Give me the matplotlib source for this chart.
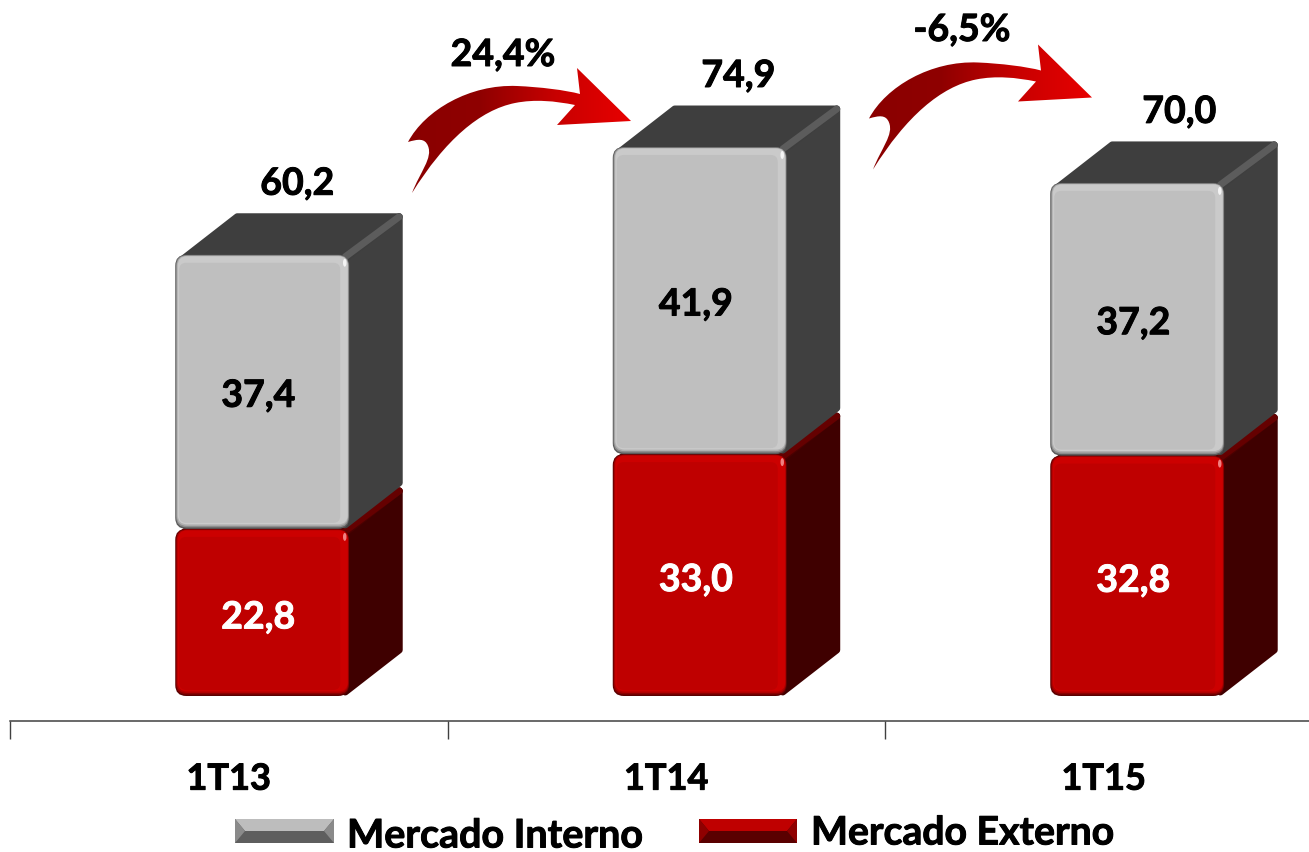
import matplotlib
matplotlib.use('Agg')
import matplotlib.pyplot as plt
import matplotlib.patheffects as pe
import numpy as np
from matplotlib.patches import FancyBboxPatch, Polygon, PathPatch, Ellipse, Rectangle
from matplotlib.path import Path
from matplotlib.transforms import Affine2D

W, H = 1309, 852

categories = ['1T13', '1T14', '1T15']
externo = [22.8, 33.0, 32.8]
interno = [37.4, 41.9, 37.2]
totais = [60.2, 74.9, 70.0]
totais_txt = ['60,2', '74,9', '70,0']
externo_txt = ['22,8', '33,0', '32,8']
interno_txt = ['37,4', '41,9', '37,2']
variacao = ['24,4%', '-6,5%']

plt.rcParams['font.family'] = ['Lato', 'DejaVu Sans']
plt.rcParams['font.weight'] = 'bold'

fig = plt.figure(figsize=(W / 100, H / 100), dpi=100, facecolor='white')

# eixo principal: linha em y=720px, categorias de 437.5px
SX = 437.5
SY = 7.33
x0_px, y0_px = 10, 721
ax = fig.add_axes([x0_px / W, (H - y0_px) / H, (W - x0_px) / W, y0_px / H])
ax.set_xlim(-0.5, -0.5 + (W - x0_px) / SX)
base = -25 / SY
ax.set_ylim(base, base + y0_px / SY)
ax.patch.set_alpha(0)
for s in ['top', 'left', 'right']:
    ax.spines[s].set_visible(False)
ax.spines['bottom'].set_color('#404040')
ax.spines['bottom'].set_linewidth(1.1)
ax.set_yticks([])
ax.set_xticks(range(len(categories)))
ax.set_xticklabels(categories, fontsize=26, fontweight='bold', color='black')
ax.tick_params(axis='x', which='major', length=0, pad=30)
ax.set_xticks([-0.5, 0.5, 1.5], minor=True)
ax.tick_params(axis='x', which='minor', length=13, width=1.0, color='#404040')

OFF = 33.5 / SX
BW = 174 / SX
DX = 54 / SX
DY = 42 / SY

grosso = [pe.withStroke(linewidth=0.7, foreground='black')]
grosso_b = [pe.withStroke(linewidth=0.7, foreground='white')]
for t in ax.get_xticklabels():
    t.set_path_effects(grosso)


def caixa(x, y0, y1, ins, cor, z):
    # ins = recuo em px (esq, dir, baixo, cima)
    l, r, b, t = ins
    xa = x + l / SX
    xb = x + BW - r / SX
    ya = y0 + b / SY
    yb = y1 - t / SY
    rad = max(11 - min(ins), 2) / SX
    p = FancyBboxPatch((xa, ya), xb - xa, yb - ya,
                       boxstyle='round,pad=0,rounding_size=%f' % rad,
                       mutation_aspect=SX / SY, fc=cor, ec='none', zorder=z)
    ax.add_patch(p)


def cubo(x, y0, y1, cores, z):
    lado, aresta, topo = cores['lado'], cores['aresta'], cores['topo']
    e = 4 / SX
    f = 4 / SY
    # face lateral
    ax.add_patch(Polygon([(x + BW - e, y0 + f), (x + BW + DX - e, y0 + DY + f),
                          (x + BW + DX - e, y1 + DY - f), (x + BW - e, y1 - f)],
                         closed=True, fc=lado, ec=lado, lw=5, joinstyle='round', zorder=z))
    # face de cima
    ax.add_patch(Polygon([(x + 2 * e, y1 - f), (x + DX + 2 * e, y1 + DY - f),
                          (x + BW + DX - e, y1 + DY - f), (x + BW - e, y1 - f)],
                         closed=True, fc=topo, ec=topo, lw=5, joinstyle='round', zorder=z))
    # aresta clara entre topo e lado
    ax.plot([x + BW - e, x + BW + DX - e], [y1 - f / 2, y1 + DY - f],
            color=aresta, lw=5, solid_capstyle='round', zorder=z + 0.1)
    # frente em camadas
    caixa(x, y0, y1, (0, 0, 0, 0), cores['borda'], z + 0.2)
    caixa(x, y0, y1, (0.8, 0.5, 1.5, 0.5), cores['meio'], z + 0.3)
    caixa(x, y0, y1, (1.6, 1, 3, 1), cores['claro'], z + 0.4)
    caixa(x, y0, y1, (2.5, 1.5, 4.5, 1.5), cores['claro2'], z + 0.45)
    caixa(x, y0, y1, (4, 9, 6, 8), cores['corpo'], z + 0.5)
    # brilho no canto
    ax.add_patch(Ellipse((x + BW - 4.5 / SX, y1 - 8 / SY), 3.5 / SX, 8 / SY, angle=0,
                         fc=cores['brilho'], ec='none', zorder=z + 0.6))


CINZA = dict(lado='#404040', aresta='#5c5c5c', topo='#3e3e3e', borda='#5a5a5a',
             meio='#8c8c8c', claro='#b0b0b0', claro2='#cacaca', corpo='#bfbfbf', brilho='#f4f4f4')
VERMELHO = dict(lado='#3f0000', aresta='#650000', topo='#4a0000', borda='#5a0000',
                meio='#8c0000', claro='#b00000', claro2='#cc0000', corpo='#bf0000', brilho='#f08080')

for i in range(len(categories)):
    x = i + OFF - BW / 2
    cubo(x, 0, externo[i], VERMELHO, 2)
    cubo(x, externo[i], externo[i] + interno[i], CINZA, 3)
    xt = i + OFF - 4 / SX
    ax.text(xt, externo[i] / 2 - 5 / SY, externo_txt[i], color='white', ha='center',
            va='center', fontsize=27, fontweight='bold', zorder=6, path_effects=grosso_b)
    ax.text(xt, externo[i] + interno[i] / 2 - 4 / SY, interno_txt[i], color='black',
            ha='center', va='center', fontsize=27, fontweight='bold', zorder=6, path_effects=grosso)
    xtop = i + OFF + (35 + 3.5 * i) / SX
    ax.text(xtop, totais[i] + 71 / SY, totais_txt[i], color='black', ha='center',
            va='center', fontsize=27, fontweight='bold', zorder=6, path_effects=grosso)

# camada em pixels para setas e legenda
ov = fig.add_axes([0, 0, 1, 1])
ov.set_xlim(0, W)
ov.set_ylim(H, 0)
ov.axis('off')
ov.patch.set_alpha(0)


def seta(dx, dy):
    M, L, C = Path.MOVETO, Path.LINETO, Path.CURVE4
    verts = [(412, 193), (420, 172), (433, 158), (428, 146),
             (425, 138), (418, 139), (408, 142),
             (425, 110), (470, 84), (517, 86),
             (540, 87), (565, 90), (580, 94),
             (577, 68),
             (631, 121),
             (557, 125),
             (575, 105),
             (555, 101), (535, 99), (515, 103),
             (480, 110), (445, 140), (412, 193)]
    codes = [M, C, C, C, C, C, C, C, C, C, C, C, C, L, L, L, L, C, C, C, C, C, C]
    path = Path(verts, codes).transformed(Affine2D().translate(dx, dy))
    patch = PathPatch(path, fc='none', ec='none', transform=ov.transData)
    ov.add_patch(patch)
    grad = np.linspace(0, 1, 256).reshape(1, -1)
    cmap = matplotlib.colors.LinearSegmentedColormap.from_list('s', ['#8a0000', '#8f0000', '#c80000', '#e80000'])
    im = ov.imshow(grad, extent=[405 + dx, 632 + dx, 195 + dy, 65 + dy], cmap=cmap,
                   aspect='auto', zorder=4)
    im.set_clip_path(patch)


seta(0, 0)
seta(461, -23.5)
ov.set_xlim(0, W)
ov.set_ylim(H, 0)

ov.text(503, 55, variacao[0], ha='center', va='center', fontsize=27, fontweight='bold',
        color='black', path_effects=grosso)
ov.text(962, 30, variacao[1], ha='center', va='center', fontsize=27, fontweight='bold',
        color='black', path_effects=grosso)


def amostra(x0, x1, y0, y1, cima, lado, baixo, fundo):
    ins = 10
    ym = (y0 + y1) / 2
    ov.add_patch(Rectangle((x0, y0), x1 - x0, y1 - y0, fc=fundo, ec='none'))
    ov.add_patch(Polygon([(x0, y0), (x1, y0), (x1 - ins, ym), (x0 + ins, ym)], fc=cima, ec='none'))
    ov.add_patch(Polygon([(x0, y1), (x1, y1), (x1 - ins, ym), (x0 + ins, ym)], fc=baixo, ec='none'))
    ov.add_patch(Polygon([(x0, y0), (x0 + ins, ym), (x0, y1)], fc=lado, ec='none'))
    ov.add_patch(Polygon([(x1, y0), (x1 - ins, ym), (x1, y1)], fc=lado, ec='none'))


amostra(235, 334, 819, 843, '#bdbdbd', '#8a8a8a', '#5e5e5e', '#5e5e5e')
amostra(699, 797, 819, 843, '#bf0000', '#8f0000', '#5a0000', '#5a0000')
ov.text(347, 836, 'Mercado Interno', ha='left', va='center', fontsize=28.4, fontweight='bold',
        color='black', path_effects=grosso)
ov.text(811, 833, 'Mercado Externo', ha='left', va='center', fontsize=28.2, fontweight='bold',
        color='black', path_effects=grosso)

fig.savefig('out.png', dpi=100)
